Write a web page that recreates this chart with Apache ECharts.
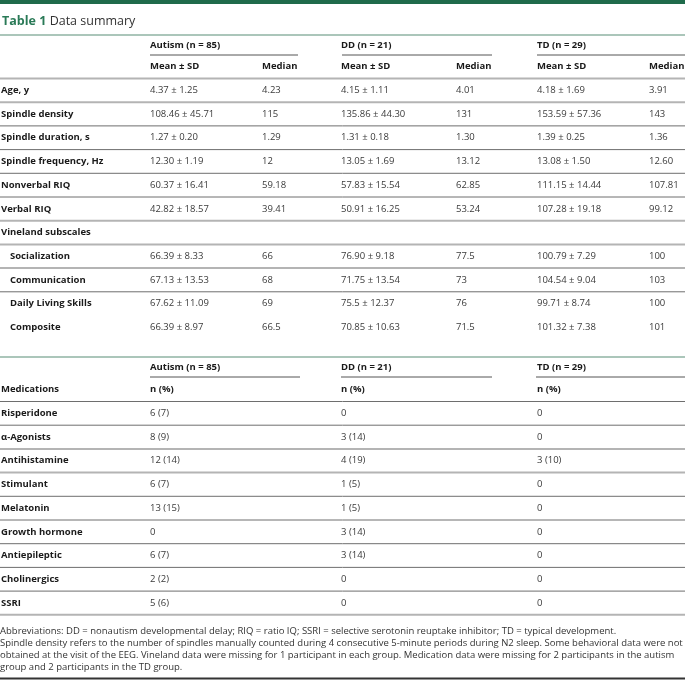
<!DOCTYPE html>
<html><head><meta charset="utf-8">
<script src="https://cdn.jsdelivr.net/npm/echarts@6/dist/echarts.min.js"></script>
<style>html,body{margin:0;padding:0;background:#fff}#c{width:685px;height:680px}</style>
</head><body><div id="c"></div>
<script>
// ---------------- DATA ----------------
const titleNum = 'Table 1';
const titleText = 'Data summary';
const groups = ['Autism (n = 85)', 'DD (n = 21)', 'TD (n = 29)'];
const subHeads = ['Mean ± SD', 'Median'];

const rowLabels = ['Age, y', 'Spindle density', 'Spindle duration, s', 'Spindle frequency, Hz',
  'Nonverbal RIQ', 'Verbal RIQ', 'Vineland subscales', 'Socialization', 'Communication',
  'Daily Living Skills', 'Composite'];
const rowIndent = [0, 0, 0, 0, 0, 0, 0, 1, 1, 1, 1];
const autismMean = ['4.37 ± 1.25', '108.46 ± 45.71', '1.27 ± 0.20', '12.30 ± 1.19', '60.37 ± 16.41',
  '42.82 ± 18.57', '', '66.39 ± 8.33', '67.13 ± 13.53', '67.62 ± 11.09', '66.39 ± 8.97'];
const autismMedian = ['4.23', '115', '1.29', '12', '59.18', '39.41', '', '66', '68', '69', '66.5'];
const ddMean = ['4.15 ± 1.11', '135.86 ± 44.30', '1.31 ± 0.18', '13.05 ± 1.69', '57.83 ± 15.54',
  '50.91 ± 16.25', '', '76.90 ± 9.18', '71.75 ± 13.54', '75.5 ± 12.37', '70.85 ± 10.63'];
const ddMedian = ['4.01', '131', '1.30', '13.12', '62.85', '53.24', '', '77.5', '73', '76', '71.5'];
const tdMean = ['4.18 ± 1.69', '153.59 ± 57.36', '1.39 ± 0.25', '13.08 ± 1.50', '111.15 ± 14.44',
  '107.28 ± 19.18', '', '100.79 ± 7.29', '104.54 ± 9.04', '99.71 ± 8.74', '101.32 ± 7.38'];
const tdMedian = ['3.91', '143', '1.36', '12.60', '107.81', '99.12', '', '100', '103', '100', '101'];

const medHeader = 'Medications';
const medSub = 'n (%)';
const medLabels = ['Risperidone', 'α-Agonists', 'Antihistamine', 'Stimulant', 'Melatonin',
  'Growth hormone', 'Antiepileptic', 'Cholinergics', 'SSRI'];
const autismMed = ['6 (7)', '8 (9)', '12 (14)', '6 (7)', '13 (15)', '0', '6 (7)', '2 (2)', '5 (6)'];
const ddMed = ['0', '3 (14)', '4 (19)', '1 (5)', '1 (5)', '3 (14)', '3 (14)', '0', '0'];
const tdMed = ['0', '0', '3 (10)', '0', '0', '0', '0', '0', '0'];

const footnotes = [
  'Abbreviations: DD = nonautism developmental delay; RIQ = ratio IQ; SSRI = selective serotonin reuptake inhibitor; TD = typical development.',
  'Spindle density refers to the number of spindles manually counted during 4 consecutive 5-minute periods during N2 sleep. Some behavioral data were not',
  'obtained at the visit of the EEG. Vineland data were missing for 1 participant in each group. Medication data were missing for 2 participants in the autism',
  'group and 2 participants in the TD group.'
];

// ---------------- LAYOUT / STYLE ----------------
const W = 685, H = 680;
const FONT = '"Open Sans", "Noto Sans", sans-serif';
const BODY = 9.5;
const C_LABEL = '#1a1a1a', C_VAL = '#3a3a3a';
const GREEN = '#1f6b4b', GREEN_LINE = '#8fb3a3';
const DARK = {stroke: '#6e6e6e', w: 1}, LIGHT = {stroke: '#b4b4b4', w: 2};
const colX = [1, 150, 262, 341, 456, 537, 649];
const t2ColX = [1, 150, 341, 537];
const groupSpan = [[150, 298], [342, 492], [537, 685]];
const ROW_H = 23.7;
const T1_TOP = 78.5;          // bottom of table-1 header
const T2_TOP = 401.5;         // bottom of table-2 header
const t1Bottom = ['L', 'D', 'D', 'D', 'D', 'L', 'L', 'L', 'D', '', ''];
const t2Bottom = ['D', 'L', 'L', 'D', 'D', 'D', 'D', 'D', 'L'];

function txt(x, y, text, bold, color, size, align) {
  return {type: 'text', x: x, y: y, silent: true,
    style: {text: text, fill: color || C_VAL, align: align || 'left', verticalAlign: 'middle',
      font: (bold ? 'bold ' : '') + (size || BODY) + 'px ' + FONT}};
}
function ln(x1, y1, x2, y2, st) {
  return {type: 'line', silent: true, shape: {x1: x1, y1: y1, x2: x2, y2: y2},
    style: {stroke: st.stroke, lineWidth: st.w}};
}

const chart = echarts.init(document.getElementById('c'), null, {renderer: 'canvas'});

function renderT1(params, api) {
  const i = params.dataIndex;
  const yc = api.coord([0, T1_TOP + (i + 0.5) * ROW_H])[1];
  const yb = api.coord([0, T1_TOP + (i + 1) * ROW_H])[1];
  const x = k => api.coord([colX[k], 0])[0];
  const vals = [autismMean[i], autismMedian[i], ddMean[i], ddMedian[i], tdMean[i], tdMedian[i]];
  const ch = [txt(x(0) + rowIndent[i] * 9, yc, rowLabels[i], true, C_LABEL)];
  vals.forEach((v, k) => { if (v) ch.push(txt(x(k + 1), yc, v, false, C_VAL)); });
  const b = t1Bottom[i];
  if (b) ch.push(ln(api.coord([0, 0])[0], yb, api.coord([W, 0])[0], yb, b === 'L' ? LIGHT : DARK));
  return {type: 'group', children: ch};
}
function renderT2(params, api) {
  const i = params.dataIndex;
  const yc = api.coord([0, T2_TOP + (i + 0.5) * ROW_H])[1];
  const yb = api.coord([0, T2_TOP + (i + 1) * ROW_H])[1];
  const x = k => api.coord([t2ColX[k], 0])[0];
  const vals = [autismMed[i], ddMed[i], tdMed[i]];
  const ch = [txt(x(0), yc, medLabels[i], true, C_LABEL)];
  vals.forEach((v, k) => ch.push(txt(x(k + 1), yc, v, false, C_VAL)));
  const b = t2Bottom[i];
  if (b) ch.push(ln(api.coord([0, 0])[0], yb, api.coord([W, 0])[0], yb, b === 'L' ? LIGHT : DARK));
  return {type: 'group', children: ch};
}

// static header graphics
const g = [];
g.push({type: 'rect', shape: {x: 0, y: 0, width: W, height: 4}, style: {fill: GREEN}});
g.push({type: 'text', x: 2, y: 21, style: {
  text: '{a|' + titleNum + '} {b|' + titleText + '}', verticalAlign: 'middle',
  rich: {a: {font: 'bold 12.5px ' + FONT, fill: '#2a7a57'}, b: {font: '12.5px ' + FONT, fill: '#333'}}}});
g.push(ln(0, 35, W, 35, {stroke: GREEN_LINE, w: 1.5}));
// table 1 header
groups.forEach((t, k) => {
  g.push(txt(colX[1 + 2 * k], 45.5, t, true, C_LABEL));
  g.push(ln(groupSpan[k][0], 55, groupSpan[k][1], 55, {stroke: '#555', w: 1}));
  g.push(txt(colX[1 + 2 * k], 66.5, subHeads[0], true, C_LABEL));
  g.push(txt(colX[2 + 2 * k], 66.5, subHeads[1], true, C_LABEL));
});
g.push(ln(0, T1_TOP, W, T1_TOP, LIGHT));
// table 2 header
g.push(ln(0, 357, W, 357, {stroke: GREEN_LINE, w: 1.5}));
groups.forEach((t, k) => {
  g.push(txt(t2ColX[1 + k], 367.5, t, true, C_LABEL));
  g.push(ln(groupSpan[k][0] - (k ? 1 : 0), 377, k === 0 ? 300 : groupSpan[k][1], 377, {stroke: '#555', w: 1}));
  g.push(txt(t2ColX[1 + k], 389.5, medSub, true, C_LABEL));
});
g.push(txt(t2ColX[0], 389.5, medHeader, true, C_LABEL));
g.push(ln(0, T2_TOP, W, T2_TOP, DARK));
// footnotes
footnotes.forEach((f, k) => g.push(txt(0, 631 + k * 12, f, false, '#333', 9.5)));
g.push(ln(0, 678.5, W, 678.5, {stroke: '#333', w: 2}));

chart.setOption({
  animation: false,
  grid: {left: 0, right: 0, top: 0, bottom: 0},
  xAxis: {type: 'value', min: 0, max: W, show: false},
  yAxis: {type: 'value', min: 0, max: H, inverse: true, show: false},
  graphic: g,
  series: [
    {type: 'custom', clip: false, renderItem: renderT1,
      data: rowLabels.map((_, i) => [0, i]), encode: {x: 0, y: 1}},
    {type: 'custom', clip: false, renderItem: renderT2,
      data: medLabels.map((_, i) => [0, i]), encode: {x: 0, y: 1}}
  ]
});
</script></body></html>
